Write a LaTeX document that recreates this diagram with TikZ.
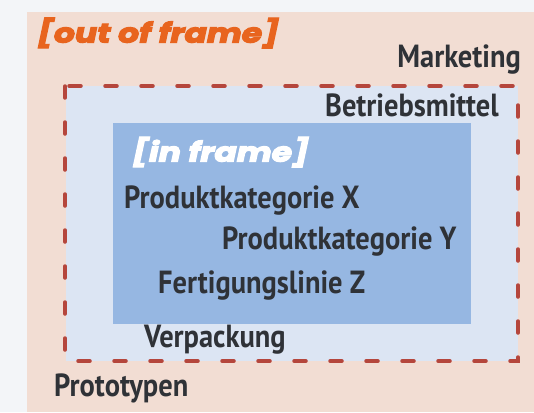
\documentclass[tikz,border=0pt]{standalone}
\usepackage{fontspec}
\setmainfont{PT Sans}
\newfontfamily\popfont[BoldItalicFeatures={FakeBold=4}]{Poppins}
\definecolor{bgc}{HTML}{F3F5F8}
\definecolor{outerc}{HTML}{F2DDD3}
\definecolor{midc}{HTML}{DCE5F3}
\definecolor{innerc}{HTML}{96B7E2}
\definecolor{dashc}{HTML}{B5463C}
\definecolor{orangec}{HTML}{E8641E}
\definecolor{txtc}{HTML}{2F3237}
\newcommand\hw[1]{\scalebox{0.89}[1]{#1}}
\newcommand\tg[1]{\scalebox{1.22}[1]{#1}}
\tikzset{
  lbl/.style={text=txtc, font=\fontsize{32}{34}\selectfont\bfseries, inner sep=0pt},
  tag/.style={font=\fontsize{27}{30}\selectfont\popfont\bfseries\itshape, inner sep=0pt},
  dashframe/.style={draw=dashc, line width=3.5pt, line cap=round, dash pattern=on 12pt off 24pt}
}
\begin{document}
\begin{tikzpicture}[x=1pt,y=-1pt]
\fill[bgc] (0,0) rectangle (534,412);
\useasboundingbox (0,0) rectangle (534,412);
\fill[outerc] (27,12) rectangle (534,412);
\fill[midc] (66,86) rectangle (518,361);
\fill[innerc] (113,123) rectangle (471,324);
\draw[dashframe] (65,86) rectangle (518,361);
\node[tag, text=orangec, anchor=west] (out) at (37,33) {\tg{[out of frame]}};
\node[lbl, anchor=east] (mkt) at (521,60) {\hw{Marketing}};
\node[lbl, anchor=east] (bm) at (499,105) {\hw{Betriebsmittel}};
\node[tag, text=white, anchor=west] (in) at (132,152) {\tg{[in frame]}};
\node[lbl, anchor=west] (px) at (124,201) {\hw{Produktkategorie X}};
\node[lbl, anchor=west] (py) at (222,242) {\hw{Produktkategorie Y}};
\node[lbl, anchor=west] (fz) at (158,286) {\hw{Fertigungslinie Z}};
\node[lbl, anchor=west] (vp) at (144,340) {\hw{Verpackung}};
\node[lbl, anchor=west] (pt) at (54,388) {\hw{Prototypen}};
\end{tikzpicture}
\end{document}
